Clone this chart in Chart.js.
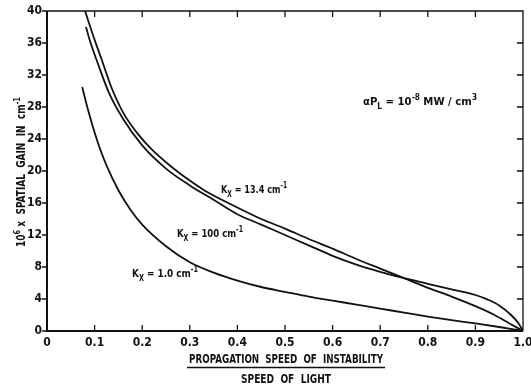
<!DOCTYPE html>
<html>
<head>
<meta charset="utf-8">
<script src="https://cdn.jsdelivr.net/npm/chart.js@4/dist/chart.umd.min.js"></script>
<style>
  html, body { margin: 0; padding: 0; background: #fff; }
  #chart { display: block; }
</style>
</head>
<body>
<canvas id="chart" width="531" height="385"></canvas>
<script>
// ---- data ----
const xTickLabels = ['0', '0.1', '0.2', '0.3', '0.4', '0.5', '0.6', '0.7', '0.8', '0.9', '1.0'];
const yTickValues = [0, 4, 8, 12, 16, 20, 24, 28, 32, 36, 40];

// Kx = 13.4 cm^-1
const speed134 = [0.080, 0.10, 0.115, 0.135, 0.16, 0.19, 0.22, 0.26, 0.30, 0.33, 0.384, 0.45, 0.50, 0.55, 0.60, 0.65, 0.70, 0.75, 0.80, 0.85, 0.90, 0.94, 0.97, 1.0];
const gain134  = [40.0, 36.4, 33.9, 30.5, 27.3, 24.7, 22.7, 20.6, 18.8, 17.6, 15.9, 14.0, 12.8, 11.5, 10.3, 9.0, 7.8, 6.6, 5.4, 4.3, 3.1, 2.0, 1.0, 0];

// Kx = 100 cm^-1
const speed100 = [0.082, 0.09, 0.104, 0.13, 0.16, 0.20, 0.25, 0.30, 0.35, 0.40, 0.45, 0.50, 0.55, 0.60, 0.65, 0.70, 0.75, 0.80, 0.85, 0.90, 0.925, 0.95, 0.975, 0.99, 1.0];
const gain100  = [38.0, 36.3, 33.9, 29.8, 26.5, 23.2, 20.3, 18.2, 16.4, 14.6, 13.3, 12.0, 10.7, 9.4, 8.3, 7.4, 6.6, 5.9, 5.2, 4.5, 3.95, 3.2, 2.0, 1.0, 0];

// Kx = 1.0 cm^-1
const speed1 = [0.074, 0.085, 0.097, 0.11, 0.125, 0.15, 0.175, 0.20, 0.25, 0.30, 0.35, 0.40, 0.45, 0.50, 0.55, 0.60, 0.65, 0.70, 0.75, 0.80, 0.85, 0.90, 0.95, 1.0];
const gain1  = [30.5, 27.9, 25.4, 23.0, 20.7, 17.6, 15.2, 13.3, 10.6, 8.6, 7.3, 6.3, 5.5, 4.9, 4.3, 3.8, 3.3, 2.8, 2.3, 1.8, 1.35, 0.95, 0.5, 0];

const FONT = "'Liberation Sans Narrow', 'DejaVu Sans Condensed', 'Arial Narrow', sans-serif";
const INK = '#111';

function toPoints(xs, ys) {
    return xs.map((x, i) => ({ x: x, y: ys[i] }));
}

function curve(xs, ys) {
    return {
        data: toPoints(xs, ys),
        borderColor: INK,
        borderWidth: 1.8,
        pointRadius: 0,
        fill: false,
        cubicInterpolationMode: 'monotone'
    };
}

// text with sub/superscript pieces, x = left edge, y = baseline
function richWidth(ctx, parts, size) {
    let w = 0;
    parts.forEach(p => {
        const s = (p.sup || p.sub) ? Math.round(size * 0.72) : size;
        ctx.font = `bold ${s}px ${FONT}`;
        w += ctx.measureText(p.t).width;
    });
    return w;
}

function drawRich(ctx, parts, x, y, size) {
    parts.forEach(p => {
        const s = (p.sup || p.sub) ? Math.round(size * 0.72) : size;
        ctx.font = `bold ${s}px ${FONT}`;
        let dy = 0;
        if (p.sup) dy = -size * 0.45;
        if (p.sub) dy = size * 0.35;
        ctx.fillText(p.t, x, y + dy);
        x += ctx.measureText(p.t).width;
    });
}

// same, squeezed horizontally to a given width (the original lettering is condensed)
function drawRichFit(ctx, parts, x, y, size, width) {
    const natural = richWidth(ctx, parts, size);
    ctx.save();
    ctx.translate(x, y);
    ctx.scale(width / natural, 1);
    drawRich(ctx, parts, 0, 0, size);
    ctx.restore();
}

// frame, inward ticks, axis titles and curve labels
const decorations = {
    id: 'decorations',
    afterDraw(chart) {
        const ctx = chart.ctx;
        const area = chart.chartArea;
        const xs = chart.scales.x;
        const ys = chart.scales.y;

        ctx.save();
        ctx.strokeStyle = INK;
        ctx.fillStyle = INK;
        ctx.textAlign = 'left';
        ctx.textBaseline = 'alphabetic';

        // frame
        ctx.lineWidth = 2;
        ctx.beginPath();
        ctx.moveTo(area.left, area.top);
        ctx.lineTo(area.left, area.bottom);
        ctx.lineTo(area.right, area.bottom);
        ctx.stroke();
        ctx.lineWidth = 1.3;
        ctx.beginPath();
        ctx.moveTo(area.left, area.top);
        ctx.lineTo(area.right, area.top);
        ctx.lineTo(area.right, area.bottom);
        ctx.stroke();

        // tick marks
        ctx.lineWidth = 1.3;
        ctx.beginPath();
        for (let i = 1; i < xTickLabels.length - 1; i++) {
            const px = xs.getPixelForValue(i / 10);
            ctx.moveTo(px, area.bottom);
            ctx.lineTo(px, area.bottom - 6);
            ctx.moveTo(px, area.top);
            ctx.lineTo(px, area.top + 6);
        }
        yTickValues.forEach(v => {
            const py = ys.getPixelForValue(v);
            ctx.moveTo(area.left - 5, py);
            ctx.lineTo(area.left, py);
            if (v > 0 && v < 40) {
                ctx.moveTo(area.right, py);
                ctx.lineTo(area.right - 6, py);
            }
        });
        ctx.stroke();

        // x axis title (fraction)
        const cx = 286;
        drawRichFit(ctx, [{ t: 'PROPAGATION  SPEED  OF  INSTABILITY' }], cx - 97, 363, 12, 194);
        ctx.lineWidth = 1.4;
        ctx.beginPath();
        ctx.moveTo(cx - 99, 367.5);
        ctx.lineTo(cx + 99, 367.5);
        ctx.stroke();
        drawRichFit(ctx, [{ t: 'SPEED  OF  LIGHT' }], cx - 45, 383, 12, 90);

        // y axis title
        const yParts = [{ t: '10' }, { t: '6', sup: true }, { t: ' x  SPATIAL  GAIN  IN  cm' }, { t: '-1', sup: true }];
        ctx.save();
        ctx.translate(25, 172);
        ctx.rotate(-Math.PI / 2);
        drawRichFit(ctx, yParts, -75, 0, 12, 150);
        ctx.restore();

        // annotations
        drawRichFit(ctx, [{ t: '\u03B1P' }, { t: 'L', sub: true }, { t: ' = 10' }, { t: '-8', sup: true }, { t: ' MW / cm' }, { t: '3', sup: true }], 363, 105, 11, 114);
        drawRichFit(ctx, [{ t: 'K' }, { t: 'X', sub: true }, { t: ' = 13.4 cm' }, { t: '-1', sup: true }], 221, 193, 11, 66);
        drawRichFit(ctx, [{ t: 'K' }, { t: 'X', sub: true }, { t: ' = 100 cm' }, { t: '-1', sup: true }], 177, 237, 11, 66);
        drawRichFit(ctx, [{ t: 'K' }, { t: 'X', sub: true }, { t: ' = 1.0 cm' }, { t: '-1', sup: true }], 132, 277, 11, 66);

        ctx.restore();
    }
};

function init() {
    const ctx = document.getElementById('chart').getContext('2d');
    new Chart(ctx, {
        type: 'line',
        data: {
            datasets: [
                curve(speed134, gain134),
                curve(speed100, gain100),
                curve(speed1, gain1)
            ]
        },
        options: {
            responsive: false,
            animation: false,
            devicePixelRatio: 1,
            layout: { padding: { top: 11, right: 8, left: 0, bottom: 0 } },
            plugins: {
                legend: { display: false },
                tooltip: { enabled: false }
            },
            scales: {
                x: {
                    type: 'linear',
                    min: 0,
                    max: 1,
                    grid: { display: false, drawTicks: false },
                    border: { display: false },
                    ticks: {
                        stepSize: 0.1,
                        autoSkip: false,
                        maxRotation: 0,
                        padding: 5,
                        color: INK,
                        font: { family: FONT, size: 12, weight: 'bold' },
                        callback: v => xTickLabels[Math.round(v * 10)]
                    },
                    afterFit: s => {
                        s.height = 54;
                        s.paddingRight = 0;
                        s.paddingLeft = 0;
                    }
                },
                y: {
                    min: 0,
                    max: 40,
                    grid: { display: false, drawTicks: false },
                    border: { display: false },
                    ticks: {
                        stepSize: 4,
                        padding: 5,
                        color: INK,
                        font: { family: FONT, size: 12, weight: 'bold' },
                        callback: v => yTickValues.includes(v) ? String(v) : ''
                    },
                    afterFit: s => {
                        s.width = 47;
                        s.paddingTop = 0;
                        s.paddingBottom = 0;
                    }
                }
            }
        },
        plugins: [decorations]
    });
}

if (document.readyState === 'loading') {
    document.addEventListener('DOMContentLoaded', init);
} else {
    init();
}
</script>
</body>
</html>
